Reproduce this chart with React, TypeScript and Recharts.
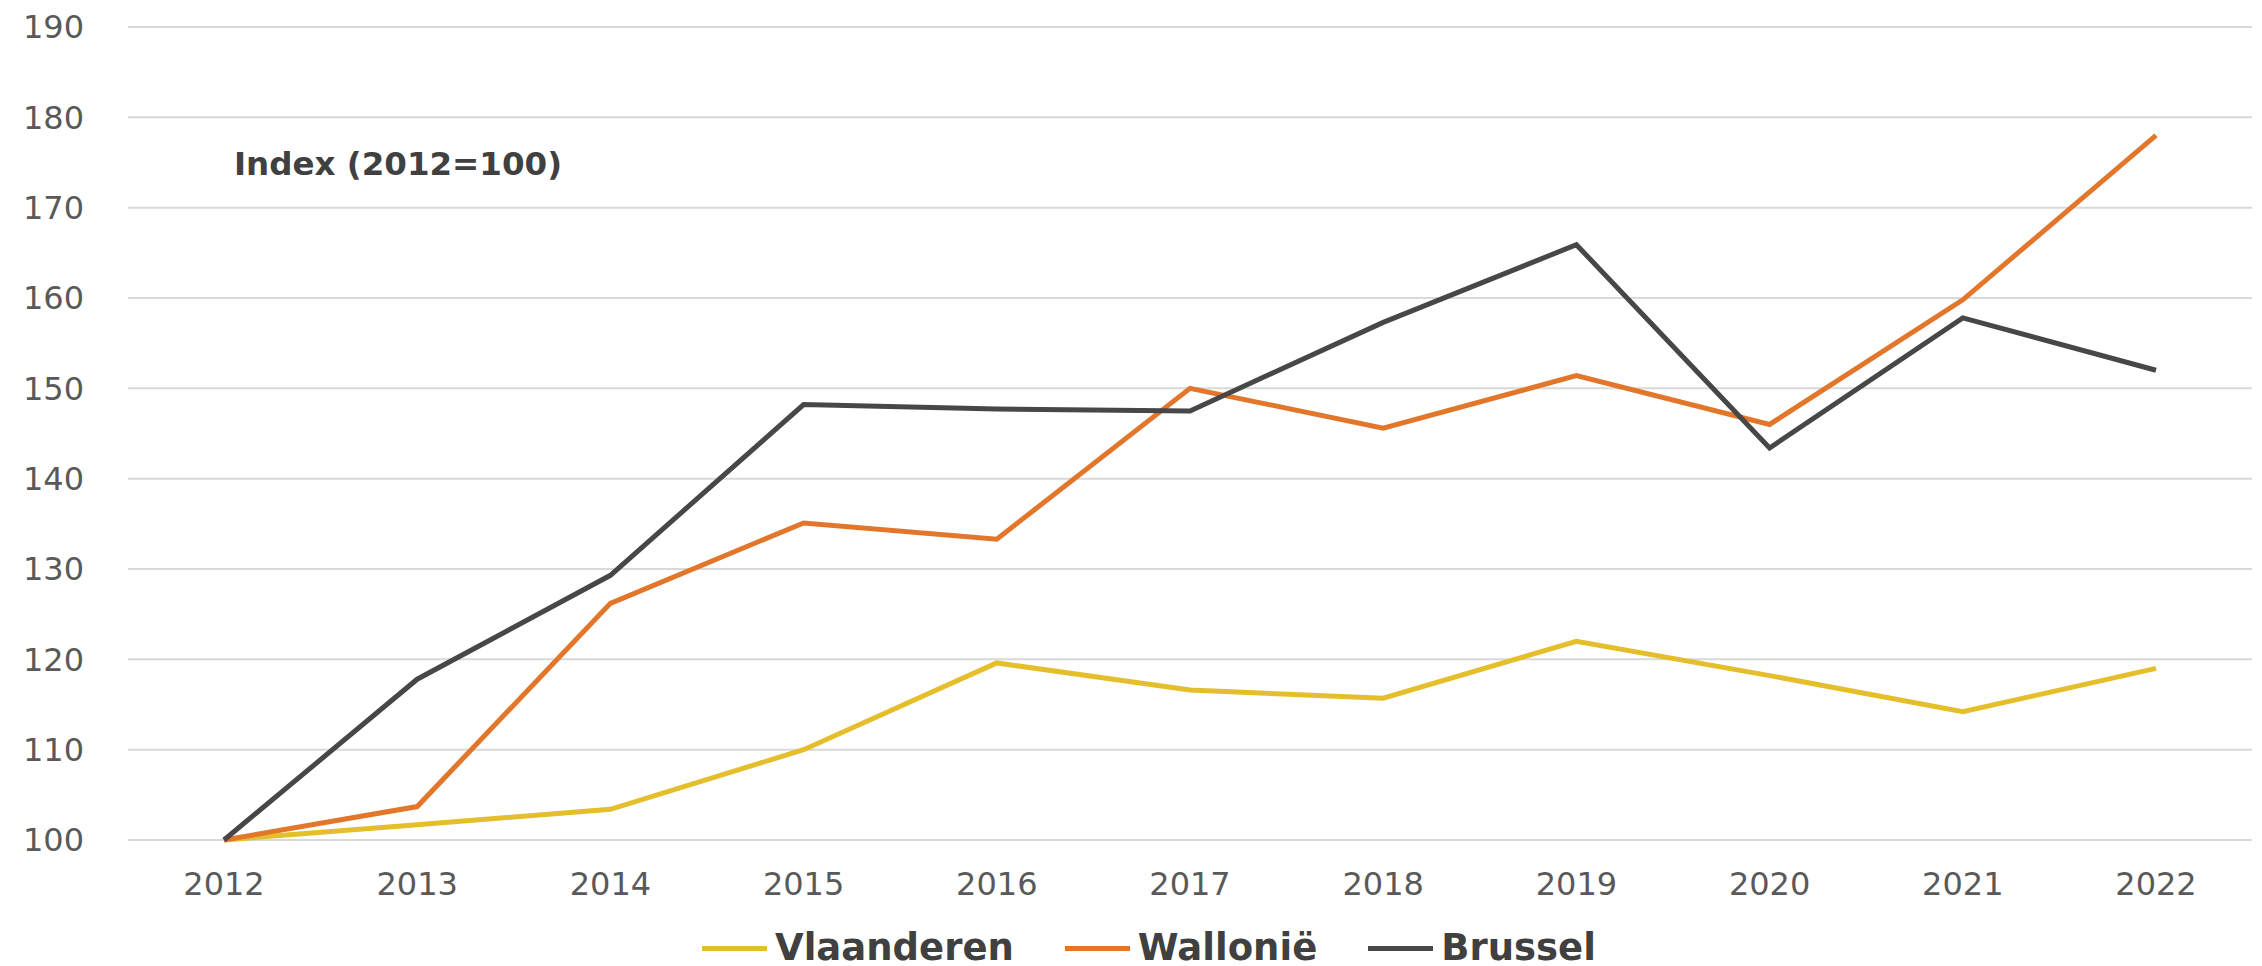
import { LineChart, Line, XAxis, YAxis, CartesianGrid, Legend } from 'recharts';

// index values (2012 = 100)
const years = ['2012', '2013', '2014', '2015', '2016', '2017', '2018', '2019', '2020', '2021', '2022'];
const vlaanderen = [100, 101.7, 103.4, 110.0, 119.6, 116.6, 115.7, 122.0, 118.2, 114.2, 119.0];
const wallonie = [100, 103.7, 126.2, 135.1, 133.3, 150.0, 145.6, 151.4, 146.0, 159.8, 178.0];
const brussel = [100, 117.8, 129.3, 148.2, 147.7, 147.5, 157.3, 165.9, 143.4, 157.8, 152.0];
const yTicks = [100, 110, 120, 130, 140, 150, 160, 170, 180, 190];

const series = [
  { key: 'vlaanderen', label: 'Vlaanderen', color: '#E5BE2C' },
  { key: 'wallonie', label: 'Wallonië', color: '#E2762B' },
  { key: 'brussel', label: 'Brussel', color: '#474747' },
];

const data = years.map((year, i) => ({
  year,
  vlaanderen: vlaanderen[i],
  wallonie: wallonie[i],
  brussel: brussel[i],
}));

const tickStyle = { fill: '#595959', fontSize: 32, fontFamily: 'DejaVu Sans' };

// legend keeps the series order (recharts sorts payload by name otherwise)
function LegendContent() {
  return (
    <div style={{ display: 'flex', alignItems: 'center', gap: 51, height: 40 }}>
      {series.map((s) => (
        <div key={s.key} style={{ display: 'flex', alignItems: 'center', gap: 8 }}>
          <span style={{ width: 65, height: 5, background: s.color, display: 'inline-block' }} />
          <span style={{
            fontFamily: 'DejaVu Sans',
            fontWeight: 700,
            fontSize: 37,
            color: '#404040',
            lineHeight: '40px',
          }}>
            {s.label}
          </span>
        </div>
      ))}
    </div>
  );
}

export default function App() {
  return (
    <div style={{ position: 'absolute', left: 0, top: 0, width: 2262, height: 966, background: '#fff' }}>
      <LineChart width={2262} height={966} data={data} margin={{ top: 27, right: 10, left: 0, bottom: 0 }}>
        <CartesianGrid stroke="#D9D9D9" strokeWidth={2} vertical={false} />
        <XAxis
          dataKey="year"
          axisLine={false}
          tickLine={false}
          tick={tickStyle}
          tickMargin={26}
          height={126}
          padding={{ left: 96, right: 96 }}
          interval={0}
        />
        <YAxis
          domain={[100, 190]}
          ticks={yTicks}
          axisLine={false}
          tickLine={false}
          tick={tickStyle}
          tickMargin={38}
          width={128}
          interval={0}
        />
        <Legend
          verticalAlign="middle"
          align="center"
          content={<LegendContent />}
          wrapperStyle={{ top: 928, left: 702, width: 1100, height: 40 }}
        />
        {series.map((s) => (
          <Line
            key={s.key}
            type="linear"
            dataKey={s.key}
            name={s.label}
            stroke={s.color}
            strokeWidth={5}
            dot={false}
            activeDot={false}
            isAnimationActive={false}
          />
        ))}
      </LineChart>
      <div style={{
        position: 'absolute',
        left: 234,
        top: 145,
        fontFamily: 'DejaVu Sans',
        fontWeight: 700,
        fontSize: 32.5,
        color: '#404040',
        whiteSpace: 'nowrap',
      }}>
        Index (2012=100)
      </div>
    </div>
  );
}
